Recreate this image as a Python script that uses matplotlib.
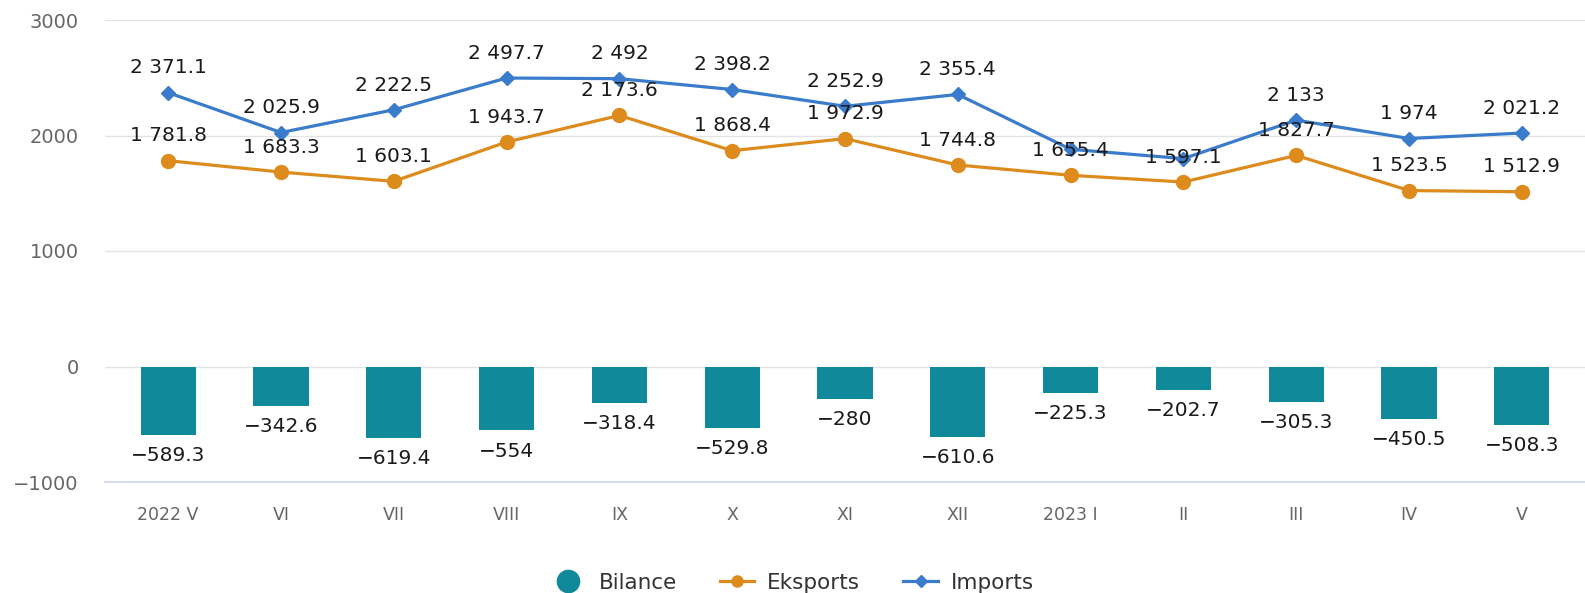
import numpy as np
import matplotlib.pyplot as plt
from matplotlib.lines import Line2D

# periods (months)
periods = ['2022 V', 'VI', 'VII', 'VIII', 'IX', 'X', 'XI', 'XII', '2023 I', 'II', 'III', 'IV', 'V']
imports = [2371.1, 2025.9, 2222.5, 2497.7, 2492, 2398.2, 2252.9, 2355.4, 1880.7, 1799.8, 2133, 1974, 2021.2]
exports = [1781.8, 1683.3, 1603.1, 1943.7, 2173.6, 1868.4, 1972.9, 1744.8, 1655.4, 1597.1, 1827.7, 1523.5, 1512.9]
balance = [-589.3, -342.6, -619.4, -554, -318.4, -529.8, -280, -610.6, -225.3, -202.7, -305.3, -450.5, -508.3]
# import labels hidden in the original (overlap)
hidden_import_labels = ['2023 I', 'II']

c_bar = '#10899a'
c_exp = '#dc8b1c'
c_imp = '#3b7bcb'


def fmt(v):
    s = f'{abs(v):,.1f}'.replace(',', ' ')
    if s.endswith('.0'):
        s = s[:-2]
    return ('\u2212' if v < 0 else '') + s


fig = plt.figure(figsize=(15.85, 5.93), dpi=100)
ax = fig.add_axes([105 / 1585, 1 - 482 / 593, 1480 / 1585, 462 / 593])

x = np.arange(len(periods))
ax.bar(x, balance, width=0.49, color=c_bar, zorder=2)
ax.plot(x, exports, color=c_exp, lw=2.3, marker='o', ms=10, zorder=3)
ax.plot(x, imports, color=c_imp, lw=2.3, marker='D', ms=7.5, zorder=4)

lab = dict(ha='center', fontsize=14.5, color='#1a1a1a', zorder=5)
for i in range(len(periods)):
    ax.annotate(fmt(exports[i]), (x[i], exports[i]), xytext=(0, 11),
                textcoords='offset points', va='bottom', **lab)
    if periods[i] not in hidden_import_labels:
        ax.annotate(fmt(imports[i]), (x[i], imports[i]), xytext=(0, 11),
                    textcoords='offset points', va='bottom', **lab)
    ax.annotate(fmt(balance[i]), (x[i], balance[i]), xytext=(0, -8),
                textcoords='offset points', va='top', **lab)

ax.set_xlim(-0.56, 12.56)
ax.set_ylim(-1000, 3000)
ax.set_yticks([-1000, 0, 1000, 2000, 3000])
ax.set_yticklabels(['\u22121000', '0', '1000', '2000', '3000'])
ax.set_xticks(x)
ax.set_xticklabels(periods)
ax.tick_params(axis='both', length=0, colors='#666666')
ax.tick_params(axis='y', pad=19, labelsize=14)
ax.tick_params(axis='x', pad=17, labelsize=12.5)
ax.grid(axis='y', color='#e3e3e3', lw=1, zorder=0)
for s in ['top', 'right', 'left']:
    ax.spines[s].set_visible(False)
ax.spines['bottom'].set_color('#ccd6eb')
ax.spines['bottom'].set_linewidth(1.2)

handles = [
    Line2D([], [], color=c_bar, marker='o', ls='none', ms=16),
    Line2D([], [], color=c_exp, marker='o', lw=2.3, ms=8),
    Line2D([], [], color=c_imp, marker='D', lw=2.3, ms=6),
]
fig.legend(handles, ['Bilance', 'Eksports', 'Imports'], loc='center',
           bbox_to_anchor=(0.50, 1 - 583 / 593), ncol=3, frameon=False,
           fontsize=15.5, handlelength=1.6, columnspacing=2.0, handletextpad=0.6,
           labelcolor='#333333')

fig.savefig('out.png', dpi=100)
